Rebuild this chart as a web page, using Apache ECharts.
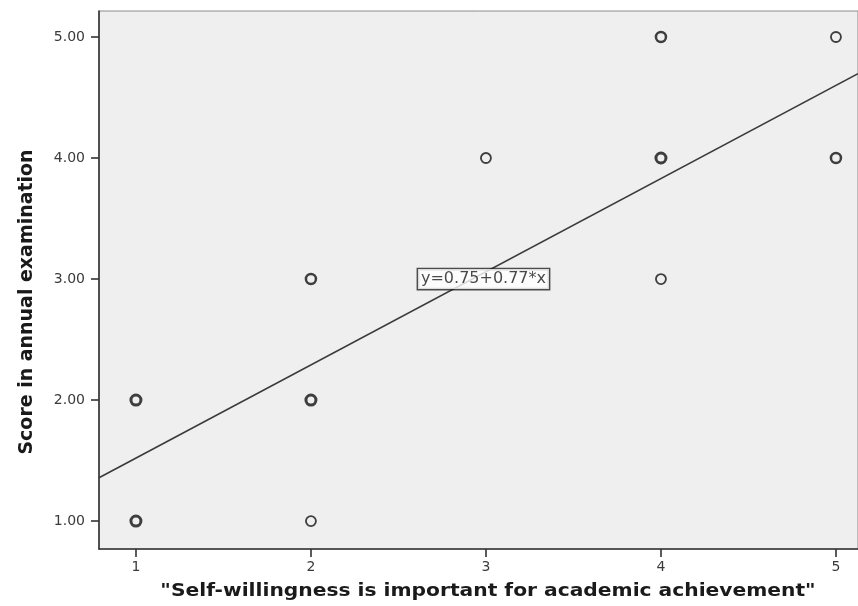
<!DOCTYPE html>
<html>
<head>
<meta charset="utf-8">
<script src="https://cdn.jsdelivr.net/npm/echarts@6/dist/echarts.min.js"></script>
<style>
  html, body { margin: 0; padding: 0; background: #ffffff; }
  #chart { width: 858px; height: 606px; }
</style>
</head>
<body>
<div id="chart"></div>
<script>
// Observed responses (agreement level vs. exam score) and how many cases share each spot
const agreement = [1, 1, 2, 2, 2, 3, 4, 4, 4, 5, 5];
const examScore = [1, 2, 1, 2, 3, 4, 3, 4, 5, 4, 5];
const caseCount = [3, 3, 1, 3, 2, 1, 1, 3, 2, 2, 1];

// Fitted line y = a + b*x
const intercept = 0.75;
const slope = 0.77;

const xTicks = [1, 2, 3, 4, 5];
const yTicks = [1, 2, 3, 4, 5];

const xMin = 0.789, xMax = 5.126;
const yMin = 0.769, yMax = 5.215;

const points = agreement.map((x, i) => ({
  value: [x, examScore[i]],
  itemStyle: { borderWidth: caseCount[i] >= 3 ? 3 : (caseCount[i] === 2 ? 2.5 : 1.8) }
}));

const fitLine = [
  [xMin, intercept + slope * xMin],
  [xMax, intercept + slope * xMax]
];

const tickFont = 'DejaVu Sans, Verdana, sans-serif';

const chart = echarts.init(document.getElementById('chart'), null, { renderer: 'canvas' });

chart.setOption({
  animation: false,
  backgroundColor: '#ffffff',
  grid: {
    left: 99, top: 11, right: -2, bottom: 57,
    show: true,
    backgroundColor: '#efefef',
    borderColor: '#8c8c8c',
    borderWidth: 1
  },
  xAxis: {
    type: 'value',
    min: xMin, max: xMax,
    axisLine: { show: true, onZero: false, lineStyle: { color: '#333', width: 1.6 } },
    axisTick: { show: true, customValues: xTicks, length: 8, lineStyle: { color: '#333', width: 1.6 } },
    axisLabel: {
      customValues: xTicks, color: '#3a3a3a', fontSize: 14, margin: 11,
      fontFamily: tickFont
    },
    splitLine: { show: false }
  },
  yAxis: {
    type: 'value',
    min: yMin, max: yMax,
    axisLine: { show: true, onZero: false, lineStyle: { color: '#333', width: 1.6 } },
    axisTick: { show: true, customValues: yTicks, length: 8, lineStyle: { color: '#333', width: 1.6 } },
    axisLabel: {
      customValues: yTicks, color: '#3a3a3a', fontSize: 14, margin: 14,
      fontFamily: tickFont,
      formatter: v => v.toFixed(2)
    },
    splitLine: { show: false }
  },
  series: [
    {
      type: 'line',
      data: fitLine,
      symbol: 'none',
      lineStyle: { color: '#3a3a3a', width: 1.6 },
      silent: true,
      z: 2
    },
    {
      type: 'scatter',
      data: points,
      symbol: 'circle',
      symbolSize: 10,
      itemStyle: { color: '#efefef', borderColor: '#111' },
      z: 3
    },
    {
      type: 'scatter',
      data: [[2.986, 3]],
      symbolSize: 0,
      silent: true,
      z: 4,
      label: {
        show: true,
        position: 'inside',
        formatter: 'y=' + intercept.toFixed(2) + '+' + slope.toFixed(2) + '*x',
        fontFamily: tickFont,
        fontSize: 16,
        color: '#1a1a1a',
        backgroundColor: '#ffffff',
        borderColor: '#222',
        borderWidth: 1.4,
        padding: [2, 3, 2, 3]
      }
    }
  ],
  graphic: [
    {
      type: 'text',
      x: 488, y: 592,
      scaleX: 1.19,
      style: {
        text: '"Self-willingness is important for academic achievement"',
        font: 'bold 17px "DejaVu Sans", Verdana, sans-serif',
        fill: '#1a1a1a',
        align: 'center',
        verticalAlign: 'middle'
      }
    },
    {
      type: 'text',
      x: 27, y: 302,
      rotation: Math.PI / 2,
      scaleX: 1.24,
      scaleY: 1.15,
      style: {
        text: 'Score in annual examination',
        font: 'bold 17px "DejaVu Sans Condensed", "Liberation Sans Narrow", sans-serif',
        fill: '#1a1a1a',
        align: 'center',
        verticalAlign: 'middle'
      }
    }
  ]
});
</script>
</body>
</html>
